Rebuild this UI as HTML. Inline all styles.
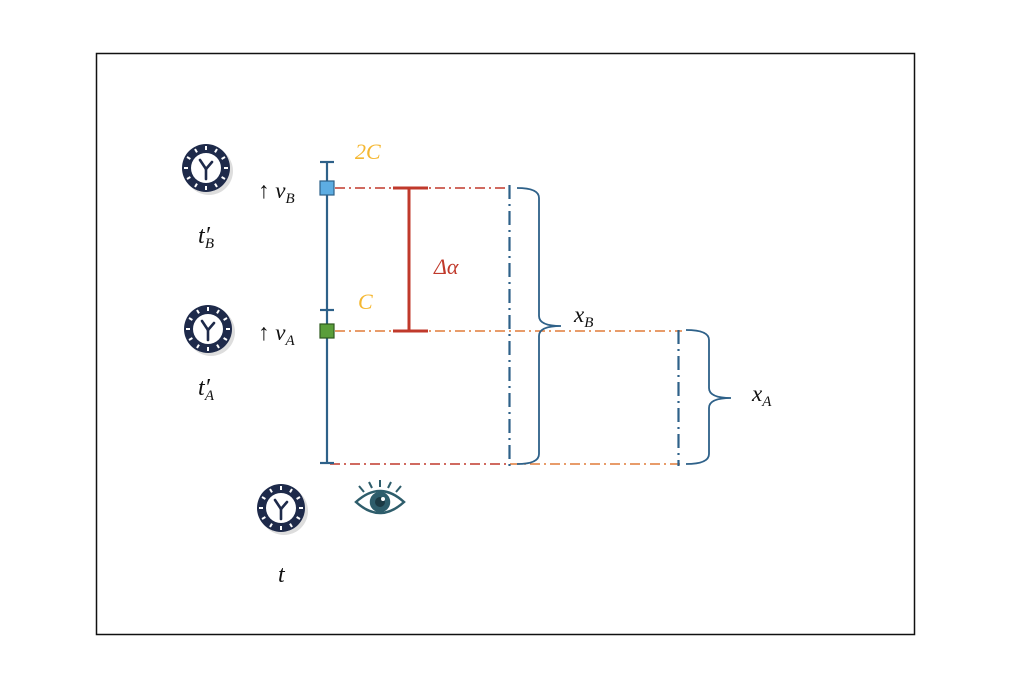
<!DOCTYPE html>
<html><head><meta charset="utf-8"><style>
body{margin:0;background:#fff}
svg{display:block}
text{font-family:"Liberation Serif",serif;font-style:italic}
</style></head><body>
<svg width="1024" height="685" viewBox="0 0 1024 685" xmlns="http://www.w3.org/2000/svg">
<defs>
<g id="clk">
<circle cx="3" cy="3" r="24" fill="#bbb" opacity="0.5"/>
<circle r="24" fill="#1e2a4a"/>
<circle r="15" fill="#fff"/>
<g stroke="#fff" stroke-width="2">
<line x1="0" y1="-22" x2="0" y2="-18"/><line x1="0" y1="22" x2="0" y2="18"/>
<line x1="-22" y1="0" x2="-18" y2="0"/><line x1="22" y1="0" x2="18" y2="0"/>
<line x1="11" y1="-19" x2="9" y2="-15.6"/><line x1="-11" y1="-19" x2="-9" y2="-15.6"/>
<line x1="11" y1="19" x2="9" y2="15.6"/><line x1="-11" y1="19" x2="-9" y2="15.6"/>
<line x1="19" y1="11" x2="15.6" y2="9"/><line x1="-19" y1="11" x2="-15.6" y2="9"/>
<line x1="19" y1="-11" x2="15.6" y2="-9"/><line x1="-19" y1="-11" x2="-15.6" y2="-9"/>
</g>
<g stroke="#1e2a4a" stroke-width="2.6" stroke-linecap="round">
<line x1="0" y1="1" x2="0" y2="11"/><line x1="0" y1="1" x2="-6" y2="-8"/><line x1="0" y1="1" x2="6" y2="-6"/>
</g>
</g>
</defs>
<rect x="96.5" y="53.5" width="818" height="581" fill="none" stroke="#111" stroke-width="1.5"/>
<g stroke-width="1.5" fill="none" stroke-dasharray="10,4,2,4">
<line x1="335" y1="188" x2="505" y2="188" stroke="#c0392b"/>
<line x1="335" y1="331" x2="682" y2="331" stroke="#e07b39"/>
<line x1="330" y1="464" x2="510" y2="464" stroke="#c0392b"/>
<line x1="510" y1="464" x2="682" y2="464" stroke="#e07b39"/>
<line x1="509.5" y1="185" x2="509.5" y2="466" stroke="#2e6189" stroke-width="2.2" stroke-dasharray="14,5,2,5"/>
<line x1="678.5" y1="330" x2="678.5" y2="466" stroke="#2e6189" stroke-width="2.2" stroke-dasharray="14,5,2,5"/>
</g>
<g stroke="#2e6189" stroke-width="2.2">
<line x1="327" y1="162" x2="327" y2="463"/>
<line x1="320" y1="162" x2="334" y2="162"/>
<line x1="320" y1="310" x2="334" y2="310"/>
<line x1="320" y1="463" x2="334" y2="463"/>
</g>
<rect x="320" y="181" width="14" height="14" fill="#5dade2" stroke="#2e6189" stroke-width="1.2"/>
<rect x="320" y="324" width="14" height="14" fill="#5a9e3a" stroke="#2e5a1f" stroke-width="1.2"/>
<g stroke="#c0392b" stroke-width="3">
<line x1="409" y1="188" x2="409" y2="331"/>
<line x1="393" y1="188" x2="428" y2="188"/>
<line x1="393" y1="331" x2="428" y2="331"/>
</g>
<g stroke="#2e6189" stroke-width="1.8" fill="none">
<path d="M517,188 Q539,188 539,198 L539,316 Q539,326 561,326 Q539,326 539,336 L539,454 Q539,464 517,464"/>
<path d="M686,330 Q709,330 709,340 L709,388 Q709,398 731,398 Q709,398 709,408 L709,454 Q709,464 686,464"/>
</g>
<text x="355" y="159" font-size="22" fill="#f5b731">2C</text>
<text x="358" y="309" font-size="22" fill="#f5b731">C</text>
<text x="434" y="274" font-size="22" fill="#c0392b">Δα</text>
<text x="574" y="322" font-size="23" fill="#111">x<tspan font-size="15" dy="5">B</tspan></text>
<text x="752" y="401" font-size="23" fill="#111">x<tspan font-size="15" dy="5">A</tspan></text>
<text x="258" y="198" font-size="23" fill="#111"><tspan font-style="normal">↑</tspan> v<tspan font-size="15" dy="5">B</tspan></text>
<text x="258" y="340" font-size="23" fill="#111"><tspan font-style="normal">↑</tspan> v<tspan font-size="15" dy="5">A</tspan></text>
<text x="198" y="243" font-size="24" fill="#111">t′<tspan font-size="15" dy="5" dx="-5">B</tspan></text>
<text x="198" y="395" font-size="24" fill="#111">t′<tspan font-size="15" dy="5" dx="-5">A</tspan></text>
<text x="278" y="582" font-size="24" fill="#111">t</text>
<use href="#clk" x="206" y="168"/>
<use href="#clk" x="208" y="329"/>
<use href="#clk" x="281" y="508"/>
<g transform="translate(380,502)" fill="none" stroke="#2e5d6b" stroke-width="2.5">
<path d="M-24,0 Q0,-22 24,0 Q0,22 -24,0 Z"/>
<circle r="9" fill="#2e5d6b"/>
<circle r="5" fill="#1c3a44" stroke="none"/>
<circle cx="3" cy="-3" r="2" fill="#fff" stroke="none"/>
<g stroke-width="2"><line x1="-16" y1="-10" x2="-21" y2="-16"/><line x1="-8" y1="-14" x2="-11" y2="-20"/><line x1="0" y1="-15" x2="0" y2="-22"/><line x1="8" y1="-14" x2="11" y2="-20"/><line x1="16" y1="-10" x2="21" y2="-16"/></g>
</g>
</svg>
</body></html>
